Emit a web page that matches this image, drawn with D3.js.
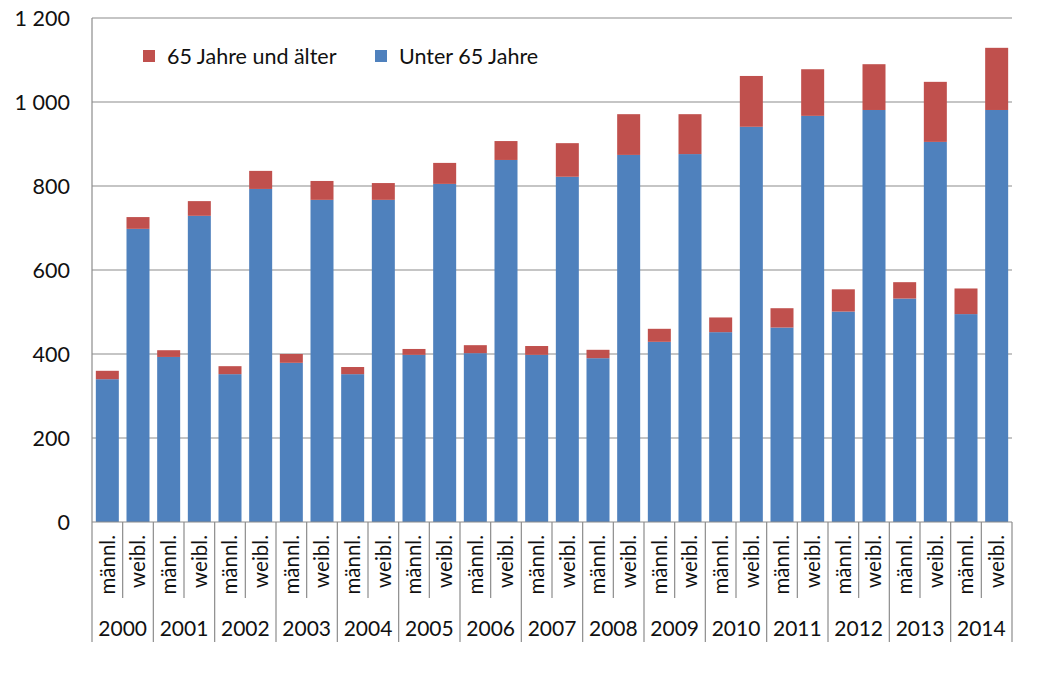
<!DOCTYPE html>
<html>
<head>
<meta charset="utf-8">
<script src="https://cdn.jsdelivr.net/npm/d3@7/dist/d3.min.js"></script>
<style>
  body { margin: 0; background: #fff; }
  text { font-family: Lato, "Noto Sans", sans-serif; fill: #111; }
</style>
</head>
<body>
<svg id="chart" width="1047" height="677"></svg>
<script>
// data
const years = ["2000","2001","2002","2003","2004","2005","2006","2007","2008","2009","2010","2011","2012","2013","2014"];
const sexes = ["männl.", "weibl."];
// one value per bar, order: 2000 m, 2000 w, 2001 m, ...
const under65 = [340, 698, 393, 729, 352, 793, 379, 767, 352, 767, 398, 805, 402, 862, 398, 822,
                 390, 874, 429, 876, 452, 941, 463, 967, 501, 981, 532, 905, 495, 981];
const over65 = [20, 28, 16, 35, 19, 43, 21, 45, 17, 40, 14, 50, 19, 45, 21, 80,
                20, 97, 31, 95, 35, 121, 46, 111, 53, 109, 39, 143, 61, 148];
const yTicks = [0, 200, 400, 600, 800, 1000, 1200];
const seriesNames = ["65 Jahre und älter", "Unter 65 Jahre"];
const colors = { under: "#4F81BD", over: "#C0504D" };

const svg = d3.select("#chart");
const plotLeft = 92, plotRight = 1012, plotTop = 18, plotBottom = 522;

const rows = [];
years.forEach((yr, i) => {
    sexes.forEach((s, j) => {
        const k = i * 2 + j;
        rows.push({ key: yr + "-" + j, year: yr, sex: s, under: under65[k], over: over65[k] });
    });
});

const x = d3.scaleBand()
    .domain(rows.map(d => d.key))
    .range([plotLeft, plotRight])
    .paddingInner(0.25)
    .paddingOuter(0.125);

const y = d3.scaleLinear()
    .domain([0, 1200])
    .range([plotBottom, plotTop]);

const fmt = d3.formatLocale({ decimal: ",", thousands: " ", grouping: [3], currency: ["", ""] }).format(",");

// gridlines
svg.append("g")
    .selectAll("line")
    .data(yTicks.filter(t => t > 0))
    .enter()
    .append("line")
    .attr("x1", plotLeft).attr("x2", plotRight)
    .attr("y1", d => y(d)).attr("y2", d => y(d))
    .attr("stroke", "#8c8c8c")
    .attr("stroke-width", 1.2);

// y labels
svg.append("g")
    .selectAll("text")
    .data(yTicks)
    .enter()
    .append("text")
    .attr("x", 70)
    .attr("y", d => y(d))
    .attr("dy", "0.36em")
    .attr("text-anchor", "end")
    .style("font-size", "21.5px")
    .text(d => fmt(d));

// stacked bars
const stack = d3.stack().keys(["under", "over"]);
const layers = stack(rows);
svg.append("g")
    .selectAll("g")
    .data(layers)
    .enter()
    .append("g")
    .attr("fill", d => colors[d.key])
    .selectAll("rect")
    .data(d => d)
    .enter()
    .append("rect")
    .attr("x", d => x(d.data.key))
    .attr("width", x.bandwidth())
    .attr("y", d => y(d[1]))
    .attr("height", d => y(d[0]) - y(d[1]));

// axis lines
const axisColor = "#8c8c8c";
svg.append("line")
    .attr("x1", plotLeft).attr("x2", plotLeft)
    .attr("y1", plotTop).attr("y2", 642)
    .attr("stroke", axisColor).attr("stroke-width", 1.2);
svg.append("line")
    .attr("x1", plotLeft).attr("x2", plotRight)
    .attr("y1", plotBottom).attr("y2", plotBottom)
    .attr("stroke", axisColor).attr("stroke-width", 1.2);

// separators below the axis
const step = x.step();
const seps = d3.range(1, rows.length + 1).map(i => ({ x: plotLeft + i * step, long: i % 2 === 0 }));
svg.append("g")
    .selectAll("line")
    .data(seps)
    .enter()
    .append("line")
    .attr("x1", d => d.x).attr("x2", d => d.x)
    .attr("y1", plotBottom)
    .attr("y2", d => d.long ? 642 : 598)
    .attr("stroke", axisColor).attr("stroke-width", 1.2);

// sex labels (rotated)
svg.append("g")
    .selectAll("text")
    .data(rows)
    .enter()
    .append("text")
    .attr("transform", d => `translate(${x(d.key) + x.bandwidth() / 2},535) rotate(-90)`)
    .attr("dy", "0.36em")
    .attr("text-anchor", "end")
    .style("font-size", "20.5px")
    .text(d => d.sex);

// year labels
svg.append("g")
    .selectAll("text")
    .data(years)
    .enter()
    .append("text")
    .attr("x", (d, i) => plotLeft + (i * 2 + 1) * step)
    .attr("y", 636)
    .attr("text-anchor", "middle")
    .style("font-size", "21px")
    .text(d => d);

// legend
const legend = svg.append("g");
const legendItems = [
    { name: seriesNames[0], color: colors.over, lx: 143 },
    { name: seriesNames[1], color: colors.under, lx: 375 }
];
legendItems.forEach(it => {
    legend.append("rect")
        .attr("x", it.lx).attr("y", 50)
        .attr("width", 12).attr("height", 12)
        .attr("fill", it.color);
    legend.append("text")
        .attr("x", it.lx + 24).attr("y", 56)
        .attr("dy", "0.36em")
        .style("font-size", "21.5px")
        .text(it.name);
});
</script>
</body>
</html>
